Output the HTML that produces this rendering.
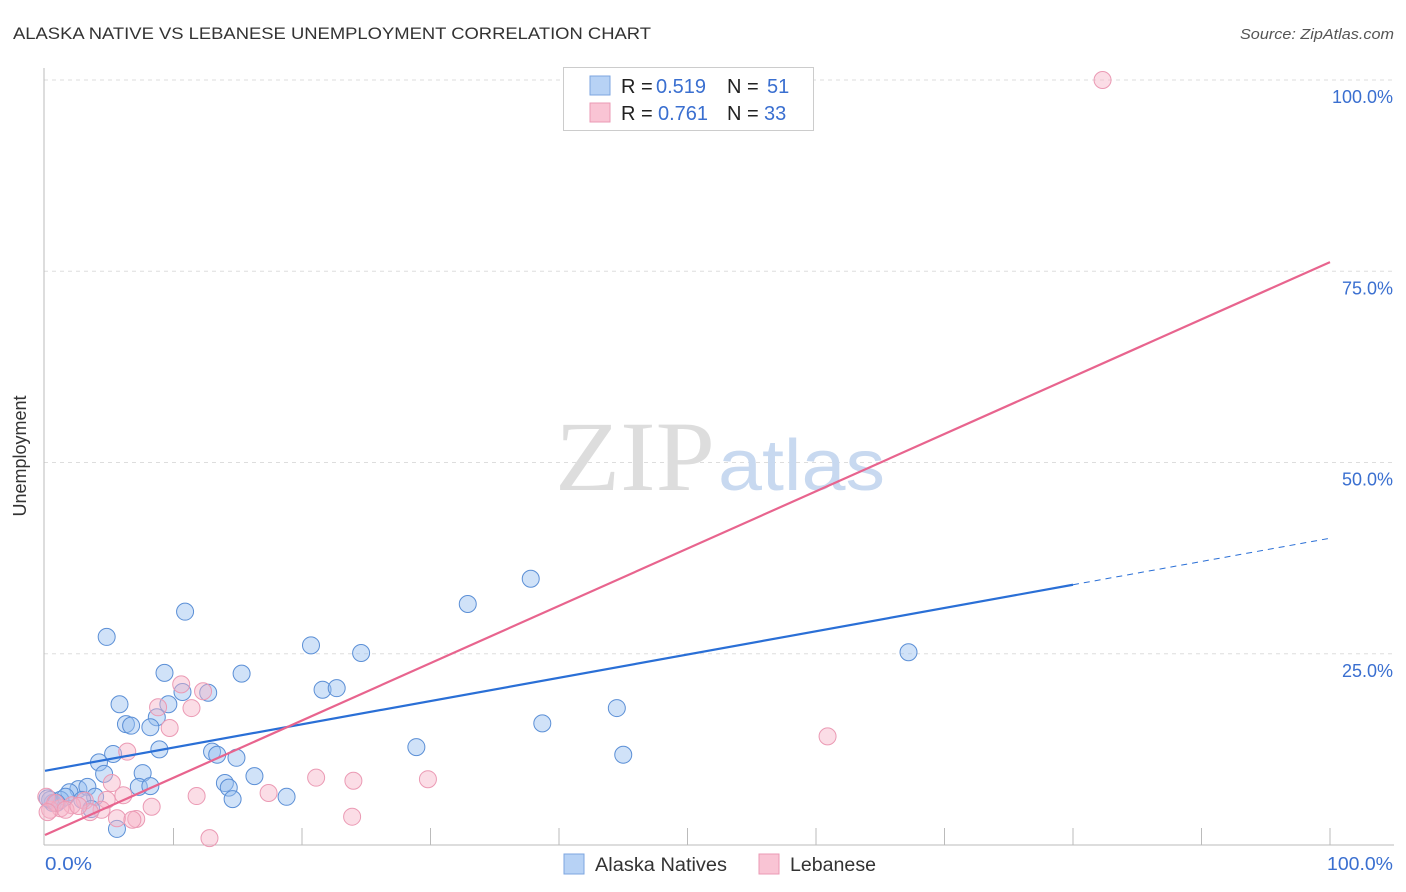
<!DOCTYPE html>
<html><head><meta charset="utf-8"><style>
body{margin:0;background:#fff;font-family:"Liberation Sans",sans-serif;}
svg{display:block}
</style></head><body>
<svg id="chart" width="1406" height="892" xmlns="http://www.w3.org/2000/svg">
<text x="13" y="39" font-size="17" fill="#333" textLength="638" lengthAdjust="spacingAndGlyphs">ALASKA NATIVE VS LEBANESE UNEMPLOYMENT CORRELATION CHART</text>
<text x="1240" y="39" font-size="15" fill="#555" font-style="italic" textLength="154" lengthAdjust="spacingAndGlyphs">Source: ZipAtlas.com</text>
<g id="grid"></g>
<text x="555" y="490" font-size="100" fill="#ddd" font-family="Liberation Serif,serif" textLength="160" lengthAdjust="spacingAndGlyphs">ZIP</text>
<text x="718" y="490" font-size="72" fill="#c8d9f0" textLength="167" lengthAdjust="spacingAndGlyphs">atlas</text>
<line x1="44" y1="68" x2="44" y2="845" stroke="#bbb"/>
<line x1="44" y1="845" x2="1394" y2="845" stroke="#bbb"/>
<g id="ticks"></g>
<text x="26" y="456" font-size="18" fill="#333" text-anchor="middle" transform="rotate(-90 26 456)">Unemployment</text>
<text x="45" y="870" font-size="18" fill="#3a6fd0" textLength="47" lengthAdjust="spacingAndGlyphs">0.0%</text>
<text x="1327" y="870" font-size="18" fill="#3a6fd0" textLength="66" lengthAdjust="spacingAndGlyphs">100.0%</text>
<g id="pts"></g>
<g id="lines"></g>
<g>
<rect x="563.5" y="67.5" width="250" height="63" fill="#fff" stroke="#ccc"/>
<rect x="590" y="76" width="20" height="19" fill="#b7d2f5" stroke="#7ca6e0"/>
<rect x="590" y="103" width="20" height="19" fill="#f9c4d4" stroke="#eb9ab4"/>
<text y="93" font-size="20" fill="#222"><tspan x="621">R =</tspan><tspan x="656" fill="#3a6fd0">0.519</tspan><tspan x="727">N =</tspan><tspan x="767" fill="#3a6fd0">51</tspan></text>
<text y="120" font-size="20" fill="#222"><tspan x="621">R =</tspan><tspan x="658" fill="#3a6fd0">0.761</tspan><tspan x="727">N =</tspan><tspan x="764" fill="#3a6fd0">33</tspan></text>
</g>
<g>
<rect x="564" y="854" width="20" height="20" fill="#b7d2f5" stroke="#7ca6e0"/>
<text x="595" y="871" font-size="19" fill="#333" textLength="132" lengthAdjust="spacingAndGlyphs">Alaska Natives</text>
<rect x="759" y="854" width="20" height="20" fill="#f9c4d4" stroke="#eb9ab4"/>
<text x="790" y="871" font-size="19" fill="#333" textLength="86" lengthAdjust="spacingAndGlyphs">Lebanese</text>
</g>
</svg>
<script>
const yTicks=[25,50,75,100];
const yTickLabels=["25.0%","50.0%","75.0%","100.0%"];
const xTicks=[10,20,30,40,50,60,70,80,90,100];
const blueX=[4.8,10.9,20.7,24.6,37.8,32.9,67.2,9.3,15.3,10.7,12.7,21.6,22.7,5.8,9.6,8.7,6.3,6.7,8.2,38.7,44.5,8.9,13.0,13.4,14.9,5.3,4.2,28.9,45.0,7.6,16.3,14.0,14.3,7.3,8.2,14.6,18.8,4.6,2.6,3.3,1.9,3.9,2.9,1.2,0.6,0.4,3.6,5.6,1.6,0.2,0.9];
const blueY=[27.2,30.5,26.1,25.1,34.8,31.5,25.2,22.5,22.4,20.0,19.9,20.3,20.5,18.4,18.4,16.7,15.8,15.6,15.4,15.9,17.9,12.5,12.2,11.8,11.4,11.9,10.8,12.8,11.8,9.4,9.0,8.1,7.5,7.6,7.7,6.0,6.3,9.3,7.3,7.6,6.9,6.3,5.9,5.9,5.5,5.9,4.7,2.1,6.3,6.1,5.5];
const pinkX=[82.3,60.9,10.6,12.3,8.8,11.4,9.7,6.4,5.2,21.1,24.0,29.8,17.4,11.8,6.1,8.3,4.8,3.1,2.1,1.2,0.4,0.1,0.8,4.4,3.5,5.6,7.1,6.8,23.9,12.8,1.6,2.6,0.2];
const pinkY=[100,14.2,21.0,20.1,18.0,17.9,15.3,12.2,8.1,8.8,8.4,8.6,6.8,6.4,6.5,5.0,5.9,5.8,5.2,4.8,4.6,6.3,5.5,4.6,4.3,3.5,3.4,3.3,3.7,0.9,4.6,5.1,4.3];
const blueLine=[9.7,40.1];
const blueSolidEnd=80;
const pinkLine=[1.3,76.2];
const NS="http://www.w3.org/2000/svg";
const xs=v=>45+v*12.85, ys=v=>845-v*7.65;
function mk(t,a,p){const e=document.createElementNS(NS,t);for(const k in a)e.setAttribute(k,a[k]);p.appendChild(e);return e;}
const grid=document.getElementById('grid');
yTicks.forEach((t,i)=>{
 const l=mk('line',{x1:44,x2:1394,y1:ys(t),y2:ys(t),stroke:'#ddd','stroke-dasharray':'4,4'},grid);
 
 
 const tx=mk('text',{x:1393,y:ys(t)+23,'font-size':18,fill:'#3a6fd0','text-anchor':'end'},grid);
 tx.textContent=yTickLabels[i];
 
 
});
const tk=document.getElementById('ticks');
xTicks.forEach(t=>{
 const l=mk('line',{x1:xs(t),x2:xs(t),y1:828,y2:845,stroke:'#bbb'},tk);
 
 
});
const pts=document.getElementById('pts');
blueX.forEach((x,i)=>{
 const c=mk('circle',{cx:xs(x),cy:ys(blueY[i]),r:8.5,fill:'rgba(150,190,240,0.45)',stroke:'#5b8fd6','stroke-width':1},pts);
 
 
});
pinkX.forEach((x,i)=>{
 const c=mk('circle',{cx:xs(x),cy:ys(pinkY[i]),r:8.5,fill:'rgba(246,180,200,0.45)',stroke:'#eb9ab4','stroke-width':1},pts);
 
 
});
const ln=document.getElementById('lines');
const bAt=v=>blueLine[0]+(blueLine[1]-blueLine[0])*v/100;
let l1=mk('line',{x1:xs(0),y1:ys(bAt(0)),x2:xs(blueSolidEnd),y2:ys(bAt(blueSolidEnd)),stroke:'#2a6fd6','stroke-width':2.2},ln);


let l2=mk('line',{x1:xs(blueSolidEnd),y1:ys(bAt(blueSolidEnd)),x2:xs(100),y2:ys(bAt(100)),stroke:'#2a6fd6','stroke-width':1,'stroke-dasharray':'6,5'},ln);


let l3=mk('line',{x1:xs(0),y1:ys(pinkLine[0]),x2:xs(100),y2:ys(pinkLine[1]),stroke:'#e8648e','stroke-width':2.2},ln);


</script>
</body></html>
